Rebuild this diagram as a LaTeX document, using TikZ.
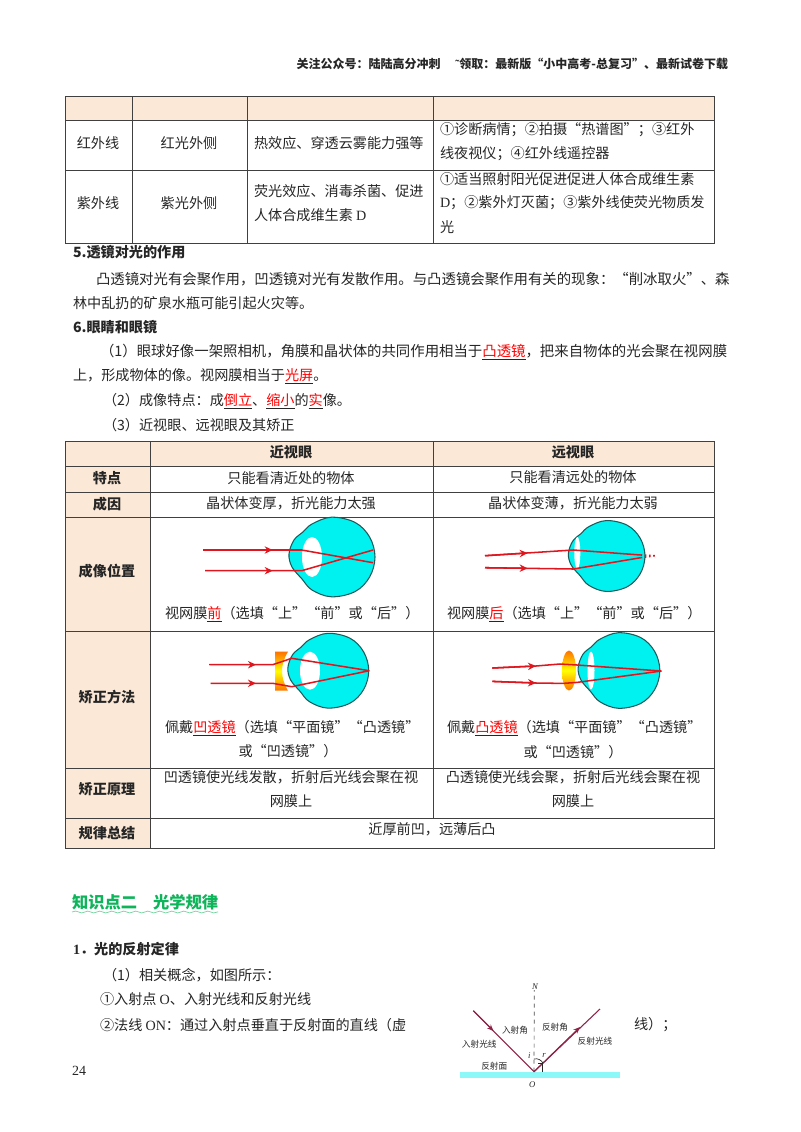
\documentclass[tikz,border=0pt]{standalone}
\usepackage{fontspec}
\setmainfont{Noto Sans CJK SC}
\newfontfamily\latinf{Liberation Serif}
\usetikzlibrary{arrows.meta,decorations.pathmorphing,calc}
\definecolor{hdr}{HTML}{FBE8D6}
\definecolor{rule}{HTML}{404040}
\definecolor{ink}{HTML}{262626}
\definecolor{ray}{HTML}{E0161E}
\definecolor{eyec}{HTML}{00F2F0}
\definecolor{eyeb}{HTML}{1F5A5A}
\definecolor{maroon}{HTML}{8E2347}
\definecolor{greenh}{HTML}{0DB45A}
\newcommand{\redu}[1]{\underline{\textcolor{red}{#1}}}
\tikzset{
  txt/.style={inner sep=0pt,outer sep=0pt,text=ink,font=\fontsize{10.6}{12}\selectfont},
  lft/.style={txt,anchor=west},
  ctr/.style={txt,anchor=center},
  wide/.style={txt,anchor=west,font=\fontsize{10.8}{12}\selectfont},
  bld/.style={txt,font=\fontsize{10.6}{12}\selectfont\bfseries},
  tiny/.style={inner sep=0pt,text=ink,font=\fontsize{6.5}{8}\selectfont},
  gridline/.style={draw=rule,line width=0.75pt},
  rayline/.style={draw=ray,line width=1.15pt},
  rayarrow/.style={draw=ray,line width=1.15pt,-{Stealth[length=6pt,width=5.5pt]}},
  eyeball/.style={fill=eyec,draw=eyeb,line width=0.8pt},
  lenswhite/.style={fill=white,draw=none},
}
\newcommand{\eyeball}{\draw[eyeball] plot[smooth cycle,tension=0.6] coordinates {(-20,-33) (-0.5,-39.8) (23,-34.6) (37.6,-20) (43,0) (37.6,20) (23,34.6) (-0.5,39.8) (-20,33) (-30,22) (-40,10) (-43,-3) (-38,-17) (-29,-25)};}
\begin{document}
\begin{tikzpicture}[x=0.75pt,y=-0.75pt]
\useasboundingbox (0,0) rectangle (800,1132);
\fill[white] (0,0) rectangle (800,1132);
% header
\node[txt,anchor=east,font=\fontsize{9}{10}\selectfont\bfseries] (head) at (728,64) {关注公众号：陆陆高分冲刺\hspace{11pt}{\latinf ˜}领取：最新版“小中高考-总复习”、最新试卷下载};
% table 1
\fill[hdr] (65,96) rectangle (714,120);
\draw[gridline] (65,96) rectangle (714,243);
\draw[gridline] (65,120)--(714,120) (65,170)--(714,170);
\draw[gridline] (132,96)--(132,243) (247,96)--(247,243) (433,96)--(433,243);
\node[ctr] (a1) at (98,143) {红外线};
\node[ctr] (a2) at (189,143) {红光外侧};
\node[lft] (a3) at (254,143) {热效应、穿透云雾能力强等};
\node[lft] (a4) at (440,130) {①诊断病情；②拍摄“热谱图”；③红外};
\node[lft] (a5) at (440,154) {线夜视仪；④红外线遥控器};
\node[ctr] (b1) at (98,203) {紫外线};
\node[ctr] (b2) at (189,203) {紫光外侧};
\node[lft] (b3) at (254,191) {荧光效应、消毒杀菌、促进};
\node[lft] (b4) at (254,215) {人体合成维生素 {\latinf D}};
\node[lft] (b5) at (440,179) {①适当照射阳光促进促进人体合成维生素};
\node[lft] (b6) at (440,203) {{\latinf D}；②紫外灯灭菌；③紫外线使荧光物质发};
\node[lft] (b7) at (440,227) {光};
% sections
\node[bld,anchor=west] (s5) at (73,252) {5.透镜对光的作用};
\node[wide] (p1) at (96,279) {凸透镜对光有会聚作用，凹透镜对光有发散作用。与凸透镜会聚作用有关的现象：“削冰取火”、森};
\node[lft] (p2) at (73,303) {林中乱扔的矿泉水瓶可能引起火灾等。};
\node[bld,anchor=west] (s6) at (73,327) {6.眼睛和眼镜};
\node[wide] (p3) at (100,352) {（1）眼球好像一架照相机，角膜和晶状体的共同作用相当于\redu{凸透镜}，把来自物体的光会聚在视网膜};
\node[lft] (p4) at (73,376) {上，形成物体的像。视网膜相当于\redu{光屏}。};
\node[lft] (p5) at (103,401) {（2）成像特点：成\redu{倒立}、\redu{缩小}的\redu{实}像。};
\node[lft] (p6) at (103,425) {（3）近视眼、远视眼及其矫正};
% table 2
\fill[hdr] (65,441) rectangle (714,466);
\fill[hdr] (65,441) rectangle (150,848);
\draw[gridline] (65,441) rectangle (714,848);
\draw[gridline] (65,466)--(714,466) (65,492)--(714,492) (65,517)--(714,517) (65,631)--(714,631) (65,768)--(714,768) (65,818)--(714,818);
\draw[gridline] (150,441)--(150,848) (433,441)--(433,818);
\node[bld] (t1) at (291,452) {近视眼};
\node[bld] (t2) at (573,452) {远视眼};
\node[bld] (r1) at (107,478) {特点};
\node[ctr] (r1a) at (291,478) {只能看清近处的物体};
\node[ctr] (r1b) at (573,477) {只能看清远处的物体};
\node[bld] (r2) at (107,504) {成因};
\node[ctr] (r2a) at (291,503) {晶状体变厚，折光能力太强};
\node[ctr] (r2b) at (573,503) {晶状体变薄，折光能力太弱};
\node[bld] (r3) at (107,571) {成像位置};
\node[lft] (r3a) at (165,614) {视网膜\redu{前}（选填“上”“前”或“后”）};
\node[lft] (r3b) at (447,614) {视网膜\redu{后}（选填“上”“前”或“后”）};
\node[bld] (r4) at (107,697) {矫正方法};
\node[lft] (r4a) at (165,728) {佩戴\redu{凹透镜}（选填“平面镜”“凸透镜”};
\node[ctr] (r4b) at (288,751) {或“凹透镜”）};
\node[lft] (r4c) at (447,728) {佩戴\redu{凸透镜}（选填“平面镜”“凸透镜”};
\node[ctr] (r4d) at (573,752) {或“凹透镜”）};
\node[bld] (r5) at (107,789) {矫正原理};
\node[ctr] (r5a) at (291,777) {凹透镜使光线发散，折射后光线会聚在视};
\node[ctr] (r5b) at (291,801) {网膜上};
\node[ctr] (r5c) at (573,777) {凸透镜使光线会聚，折射后光线会聚在视};
\node[ctr] (r5d) at (573,801) {网膜上};
\node[bld] (r6) at (107,833) {规律总结};
\node[ctr] (r6a) at (432,829) {近厚前凹，远薄后凸};
% eye 1
\begin{scope}[shift={(332,557)}]\eyeball\end{scope}
\fill[lenswhite] (312,557) ellipse [x radius=10,y radius=20];
\draw[rayline] (203.3,550)--(301.7,550)--(373,562.7);
\draw[rayline] (205,570.7)--(301.7,570.7)--(373,550);
\draw[rayarrow] (203.3,550)--(272.7,550);
\draw[rayarrow] (205,570.7)--(272.7,570.7);
% eye 2
\begin{scope}[shift={(606.7,556)},scale=0.89]\eyeball\end{scope}
\fill[lenswhite] (577.3,553) ellipse [x radius=3,y radius=16];
\draw[rayline] (485,555.7)--(573.3,550)--(640.7,555);
\draw[rayline] (485,567.7)--(573.3,569)--(640.7,557.7);
\draw[rayarrow] (485,555.7)--(527.7,553);
\draw[rayarrow] (485,567.7)--(527.7,568.3);
\draw[rayline,dotted,line width=1.2pt] (640.7,555)--(655,555.7) (640.7,557.7)--(655,555.7);
% eye 3
\begin{scope}[shift={(328.3,670.7)},scale=0.94]\eyeball\end{scope}
\fill[lenswhite] (310,670.7) ellipse [x radius=10,y radius=19];
\shade[top color=orange!90!red,bottom color=orange!90!red,middle color=yellow] (275,651.7) -- (288,651.7) .. controls (280,665) and (280,677) .. (288,690.7) -- (275,690.7) -- cycle;
\draw[rayline] (209.3,664.7)--(272.7,664.7)--(291.7,658.3)--(369.3,670.7);
\draw[rayline] (210.7,683.3)--(272.7,683.3)--(291.7,686.7)--(369.3,670.7);
\draw[rayarrow] (209.3,664.7)--(256,664.7);
\draw[rayarrow] (210.7,683.3)--(256,683.3);
% eye 4
\begin{scope}[shift={(619,670.5)},scale=0.95]\eyeball\end{scope}
\fill[lenswhite] (591,670.5) ellipse [x radius=3.5,y radius=19];
\shade[top color=orange!90!red,bottom color=orange!90!red,middle color=yellow] (569,670.5) ellipse [x radius=7,y radius=20];
\draw[rayline] (492.4,668)--(536,666)--(560,664)--(577,665)--(661.4,671);
\draw[rayline] (492.4,681.4)--(536,683)--(563,683.4)--(577,682.4)--(661.4,671);
\draw[rayarrow] (492.4,668)--(536,666);
\draw[rayarrow] (492.4,681.4)--(536,683);
% knowledge heading
\node[txt,anchor=west,text=greenh,font=\fontsize{12.2}{14}\selectfont\bfseries] (kh) at (72,902) {知识点二\hspace{12pt}光学规律};
\draw[greenh!60,line width=0.5pt,decorate,decoration={snake,amplitude=0.7pt,segment length=9pt}] (72,912)--(218,912);
\node[bld,anchor=west] (s1) at (73,949) {{\latinf 1}．光的反射定律};
\node[lft] (q1) at (103,975) {（1）相关概念，如图所示：};
\node[lft] (q2) at (100,999) {①入射点 {\latinf O}、入射光线和反射光线};
\node[lft] (q3) at (100,1025) {②法线 {\latinf ON}：通过入射点垂直于反射面的直线（虚};
\node[lft] (q4) at (634,1025) {线）；};
\node[lft,font=\fontsize{10.5}{12}\latinf] (pg) at (72,1071) {24};
% reflection figure
\fill[eyec!45!white] (460,1071.7) rectangle (620,1078.3);
\coordinate (O) at (534,1071.7);
\coordinate (A) at (473.3,1010.7);
\coordinate (B) at (600,1009);
\draw[black!70,dashed,line width=0.5pt] (O)--(534.3,990);
\draw[maroon,line width=0.8pt] (A)--(O)--(B);
\draw[maroon,line width=0.8pt,-{Stealth[length=5pt,width=4pt]}] (A)--(493.5,1031);
\draw[maroon,line width=0.8pt,-{Stealth[length=5pt,width=4pt]}] (O)--(580,1027);
\draw[ink,line width=0.5pt] (534,1059) .. controls (538,1058) and (541,1060) .. (543,1063);
\draw[ink,line width=0.5pt] (538,1063.5)--(542.7,1063.5)--(542.7,1071.7);
\node[tiny,font=\fontsize{6.5}{8}\selectfont\itshape\latinf] (N) at (535,987) {N};
\node[tiny] (l1) at (515,1030) {入射角};
\node[tiny] (l2) at (555,1027.3) {反射角};
\node[tiny] (l3) at (479.3,1044) {入射光线};
\node[tiny] (l4) at (595,1040.7) {反射光线};
\node[tiny] (l5) at (494.3,1066) {反射面};
\node[tiny,font=\fontsize{6.5}{8}\selectfont\itshape\latinf] (li) at (529.3,1056) {i};
\node[tiny,font=\fontsize{6.5}{8}\selectfont\itshape\latinf] (lr) at (544,1055) {r};
\node[tiny,font=\fontsize{6.5}{8}\selectfont\itshape\latinf] (lO) at (532.3,1085) {O};
\end{tikzpicture}
\end{document}
